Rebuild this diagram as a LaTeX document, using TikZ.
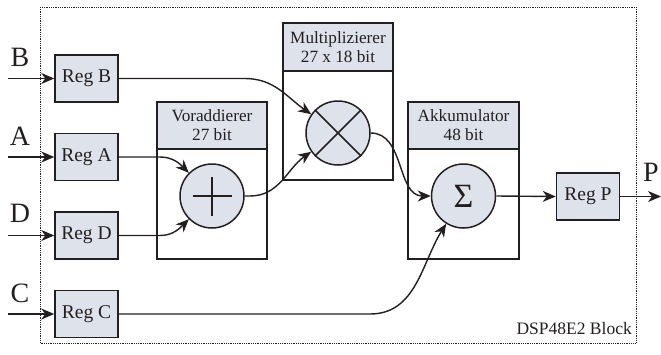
\documentclass[tikz,border=0pt]{standalone}
\usepackage{fontspec}
\setmainfont{Liberation Serif}
\usetikzlibrary{arrows.meta}
\definecolor{boxfill}{HTML}{DEE3EB}
\definecolor{ink}{HTML}{231F20}
\tikzset{
  regbox/.style={draw=ink, line width=1.5pt, fill=boxfill, minimum width=63pt, minimum height=47pt, inner sep=0pt, font=\fontsize{19.5}{21}\selectfont, text=ink},
  unitbox/.style={draw=ink, line width=1.5pt, fill=white},
  unithead/.style={draw=ink, line width=1.5pt, fill=boxfill, inner sep=0pt, align=center, font=\fontsize{17.2}{19}\selectfont, text=ink},
  opcircle/.style={draw=ink, line width=1.5pt, fill=boxfill, circle, minimum size=64pt, inner sep=0pt},
  wire/.style={draw=ink, line width=1.4pt, -{Stealth[length=13pt,width=11pt,inset=4pt]}},
  portlabel/.style={font=\fontsize{28}{30}\selectfont, text=ink, inner sep=0pt}
}
\begin{document}
\begin{tikzpicture}[x=1pt,y=-1pt]
\useasboundingbox (0,0) rectangle (661,354);

% block boundary
\draw[ink, line width=1pt, dash pattern=on 0.9pt off 0.9pt] (40,7) rectangle (636,343);
\node[anchor=south east, inner sep=0pt, font=\fontsize{17.5}{19}\selectfont, text=ink] (blockname) at (632,335) {DSP48E2 Block};

% arithmetic units
\draw[unitbox] (157,102) rectangle (267,259);
\node[unithead, minimum width=110pt, minimum height=47pt] (prehead) at (212,125.5) {Voraddierer\\27 bit};
\draw[unitbox] (283,23) rectangle (393,180);
\node[unithead, minimum width=110pt, minimum height=48pt] (mulhead) at (338,47) {Multiplizierer\\27 x 18 bit};
\draw[unitbox] (408,102) rectangle (519,259);
\node[unithead, minimum width=111pt, minimum height=47pt] (acchead) at (463.5,125.5) {Akkumulator\\48 bit};

% operators
\node[opcircle] (add) at (212,196) {};
\draw[ink, line width=1.5pt] ([xshift=-19.5pt]add.center) -- ([xshift=19.5pt]add.center);
\draw[ink, line width=1.5pt] ([yshift=-19.5pt]add.center) -- ([yshift=19.5pt]add.center);
\node[opcircle] (mul) at (338,133) {};
\draw[ink, line width=1.5pt] (mul.45) -- (mul.225) (mul.135) -- (mul.315);
\node[opcircle, font=\fontsize{34}{36}\selectfont, text=ink] (acc) at (463.5,196) {Σ};

% registers
\node[regbox] (regB) at (86.5,78.5) {Reg B};
\node[regbox] (regA) at (86.5,157) {Reg A};
\node[regbox] (regD) at (86.5,235.5) {Reg D};
\node[regbox] (regC) at (86.5,314) {Reg C};
\node[regbox] (regP) at (588,196.5) {Reg P};

% ports
\node[portlabel] (pB) at (20,57) {B};
\node[portlabel] (pA) at (20,136) {A};
\node[portlabel] (pD) at (20,213) {D};
\node[portlabel] (pC) at (20,293) {C};
\node[portlabel] (pP) at (651,172) {P};
\coordinate (inB) at (8,78.5);
\coordinate (inA) at (8,157);
\coordinate (inD) at (8,235.5);
\coordinate (inC) at (8,314);
\coordinate (outP) at (661,196.5);

% input wires
\draw[wire] (inB) -- (regB.west);
\draw[wire] (inA) -- (regA.west);
\draw[wire] (inD) -- (regD.west);
\draw[wire] (inC) -- (regC.west);

% data path
\draw[wire] (regB.east) -- (245,78.5) to[out=0,in=145] (mul.145);
\draw[wire] (regA.east) -- (160,157) to[out=0,in=135] (add.135);
\draw[wire] (regD.east) -- (160,235.5) to[out=0,in=-135] (add.-135);
\draw[wire] (add.east) -- (250,196) to[out=0,in=-145] (mul.-145);
\draw[wire] (mul.east) to[out=0,in=180] (acc.west);
\draw[wire] (regC.east) -- (370,314) to[out=0,in=-122] (acc.-122);
\draw[wire] (acc.east) -- (regP.west);
\draw[wire] (regP.east) -- (outP);
\end{tikzpicture}
\end{document}
